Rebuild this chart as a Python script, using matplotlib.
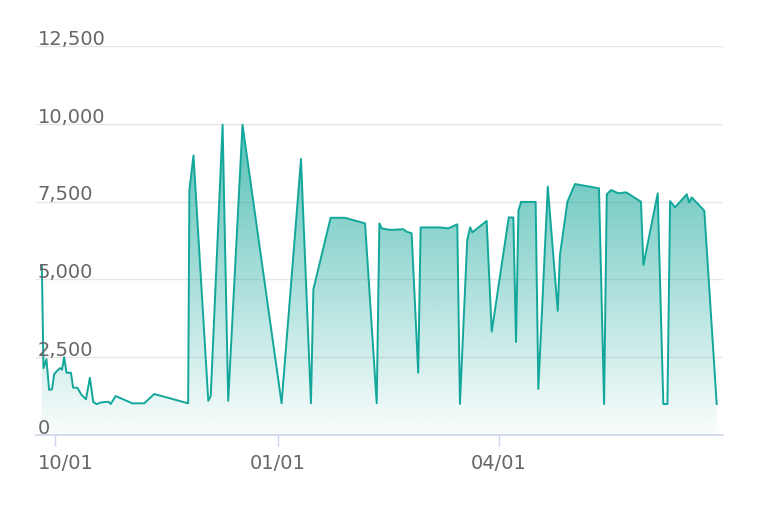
import numpy as np
import pandas as pd
import matplotlib
matplotlib.use('Agg')
import matplotlib.pyplot as plt
import matplotlib.dates as mdates
from matplotlib.colors import LinearSegmentedColormap

# days after 2023-10-01 and the values
day_offsets = [-5.4, -4.7, -3.5, -2.4, -1.2, -0.3, 0.8, 2.1, 2.9, 3.8, 4.8, 6.6, 7.5,
               9.2, 11.0, 12.8, 14.4, 15.8, 17.2, 18.6, 22.0, 23.0, 25.0, 31.9, 36.8,
               40.9, 54.9, 55.4, 57.1, 63.2, 64.2, 69.1, 71.4, 77.3, 93.4, 101.4, 105.5,
               106.5, 113.6, 119.5, 127.8, 132.6, 133.7, 134.7, 138.1, 143.6, 145.0,
               147.0, 149.7, 150.7, 158.7, 162.1, 165.8, 166.9, 169.9, 171.1, 172.0,
               177.9, 180.0, 187.0, 188.9, 190.0, 191.0, 192.1, 198.1, 199.2, 203.1,
               207.2, 208.1, 211.2, 214.3, 224.2, 226.3, 227.4, 229.2, 232.2, 235.4,
               241.5, 242.5, 248.4, 250.7, 252.4, 253.5, 255.5, 260.4, 261.3, 262.4,
               267.6, 272.7]
values = [5460, 2150, 2440, 1450, 1470, 1960, 2050, 2150, 2100, 2500, 2000, 2000, 1520,
          1520, 1285, 1150, 1840, 1065, 990, 1040, 1070, 996, 1253, 1018, 1018,
          1317, 1018, 7870, 8980, 1100, 1250, 9970, 1100, 9970, 1020, 8870, 1020,
          4680, 6980, 6980, 6800, 1020, 6800, 6640, 6590, 6610, 6530,
          6480, 2000, 6670, 6670, 6640, 6770, 1000, 6265, 6673, 6510,
          6880, 3320, 6990, 6990, 2990, 7210, 7490, 7490, 1480, 7980,
          3990, 5780, 7500, 8065, 7926, 996, 7734, 7872, 7766, 7798,
          7496, 5462, 7766, 996, 996, 7518, 7316, 7734, 7475, 7637,
          7207, 996]
y_ticks = [0, 2500, 5000, 7500, 10000, 12500]
x_ticks = ['2023-10-01', '2024-01-01', '2024-04-01']

base = pd.Timestamp('2023-10-01')
dates = base + pd.to_timedelta(day_offsets, unit='D')
x = mdates.date2num(dates.to_pydatetime())
y = np.array(values)

line_color = '#12a79a'
grid_color = '#e6e6e6'
axis_color = '#ccd6eb'
text_color = '#666666'
fs = 14

fig = plt.figure(figsize=(7.6, 5.12), dpi=100)
ax = fig.add_axes([36 / 760, 77 / 512, 687 / 760, 389 / 512])

x_min = mdates.date2num(base + pd.Timedelta(days=-7.8))
x_max = mdates.date2num(base + pd.Timedelta(days=275.3))
ax.set_xlim(x_min, x_max)
ax.set_ylim(0, 12500)

# gradient fill under the line
poly = ax.fill_between(x, y, 0, color='none', lw=0)
cmap = LinearSegmentedColormap.from_list(
    'tealfade', [(0.07, 0.65, 0.6, 0.02), (0.07, 0.65, 0.6, 0.88)])
grad = np.linspace(0, 1, 256).reshape(-1, 1)
im = ax.imshow(grad, cmap=cmap, aspect='auto', origin='lower',
               extent=[x_min, x_max, 0, 12500], zorder=2)
im.set_clip_path(poly.get_paths()[0], transform=ax.transData)

ax.plot(x, y, color=line_color, lw=1.4, zorder=3)

# grid lines and y labels drawn inside the plot
for t in y_ticks[1:]:
    ax.axhline(t, color=grid_color, lw=1, zorder=1)
for t in y_ticks:
    ax.annotate(f'{t:,}', xy=(0, t), xycoords=('axes fraction', 'data'),
                xytext=(1, -2), textcoords='offset points',
                ha='left', va='bottom', fontsize=fs, color=text_color, zorder=4)
ax.set_yticks([])

# x ticks; the first label is pushed right so it stays inside the plot
tick_pos = mdates.date2num(pd.to_datetime(x_ticks).to_pydatetime())
ax.set_xticks(tick_pos)
ax.set_xticklabels([])
ax.tick_params(axis='x', length=8, width=1, color=axis_color)
for i, (p, t) in enumerate(zip(tick_pos, x_ticks)):
    label = pd.Timestamp(t).strftime('%m/%d')
    if i == 0:
        ax.annotate(label, xy=(0, 0), xycoords='axes fraction',
                    xytext=(1, -14), textcoords='offset points',
                    ha='left', va='top', fontsize=fs, color=text_color)
    else:
        ax.annotate(label, xy=(p, 0), xycoords=('data', 'axes fraction'),
                    xytext=(0, -14), textcoords='offset points',
                    ha='center', va='top', fontsize=fs, color=text_color)

for side in ['top', 'right', 'left']:
    ax.spines[side].set_visible(False)
ax.spines['bottom'].set_color(axis_color)
ax.spines['bottom'].set_linewidth(1.2)

fig.savefig('out.png', dpi=100)
